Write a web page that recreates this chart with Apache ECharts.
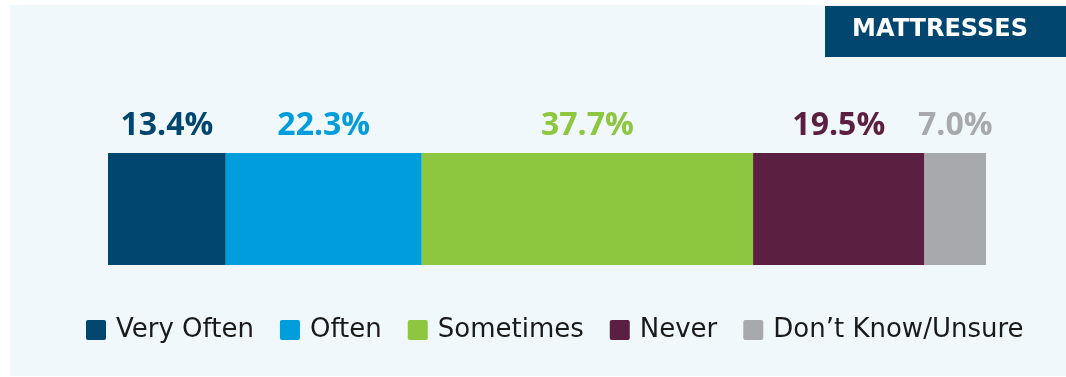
<!DOCTYPE html>
<html>
<head>
<meta charset="utf-8">
<script src="https://cdn.jsdelivr.net/npm/echarts@6/dist/echarts.min.js"></script>
<style>
html,body{margin:0;padding:0;background:#ffffff;}
#chart{width:1066px;height:377px;}
</style>
</head>
<body>
<div id="chart"></div>
<script>
const categories = ['Mattresses'];
const seriesNames = ['Very Often', 'Often', 'Sometimes', 'Never', 'Don\u2019t Know/Unsure'];
const seriesValues = [13.4, 22.3, 37.7, 19.5, 7.0];
const seriesColors = ['#00466f', '#009ddc', '#8dc63f', '#5b1f41', '#a8a9ac'];
const titleText = 'MATTRESSES';

const total = seriesValues.reduce((a, b) => a + b, 0);
const chart = echarts.init(document.getElementById('chart'));
const iconPath = 'path://M2,0 H18 Q20,0 20,2 V18 Q20,20 18,20 H2 Q0,20 0,18 V2 Q0,0 2,0 Z';

chart.setOption({
  animation: false,
  backgroundColor: '#ffffff',
  graphic: [
    { type: 'rect', z: -10, shape: { x: 10, y: 5, width: 1056, height: 371 }, style: { fill: '#f1f8fc' } },
    { type: 'rect', z: 10, shape: { x: 825, y: 6, width: 241, height: 51 }, style: { fill: '#00466f' } },
    { type: 'text', z: 11, x: 940, y: 30, style: { text: titleText, fill: '#ffffff', font: 'bold 24px "DejaVu Sans"', textAlign: 'center', textVerticalAlign: 'middle' } }
  ],
  grid: { left: 108, right: 80, top: 153, height: 112, containLabel: false },
  xAxis: { type: 'value', min: 0, max: total, show: false },
  yAxis: { type: 'category', data: categories, show: false },
  legend: {
    left: 86, top: 317, padding: 0,
    itemWidth: 20, itemHeight: 20, itemGap: 26,
    icon: iconPath,
    textStyle: { fontFamily: 'DejaVu Sans', fontSize: 26, color: '#1a1a1a', padding: [0, 0, 0, 5] },
    data: seriesNames
  },
  series: seriesNames.map((name, i) => ({
    name: name,
    type: 'bar',
    stack: 'total',
    barWidth: 112,
    data: [seriesValues[i]],
    itemStyle: { color: seriesColors[i] },
    label: {
      show: true,
      position: 'top',
      distance: 11,
      formatter: seriesValues[i].toFixed(1) + '%',
      fontFamily: 'Open Sans',
      fontWeight: 'bold',
      fontSize: 32,
      color: seriesColors[i]
    }
  }))
});
</script>
</body>
</html>
